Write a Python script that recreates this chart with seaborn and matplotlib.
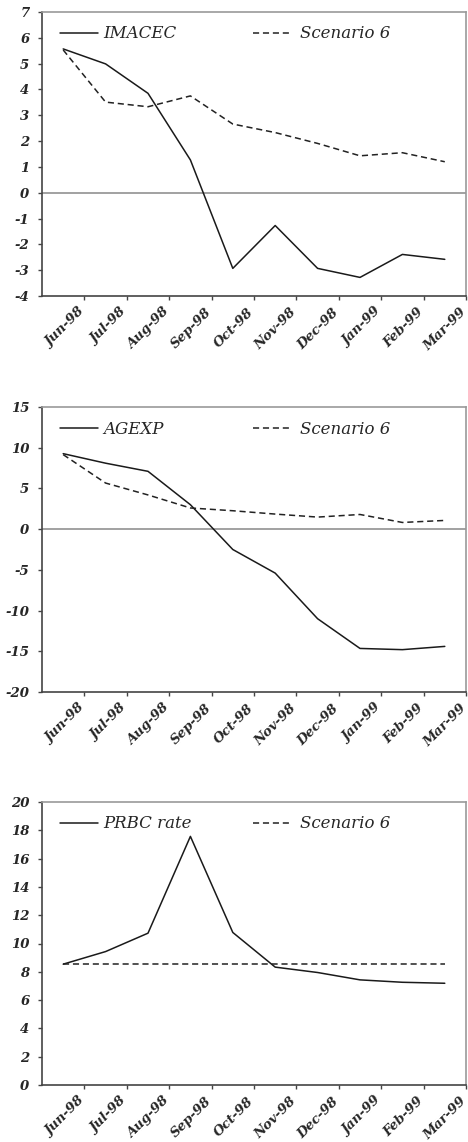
import matplotlib
matplotlib.use("Agg")
import matplotlib.pyplot as plt
import seaborn as sns
import numpy as np
from matplotlib.legend import Legend

sns.set_theme(style="white")
plt.rcParams['font.family'] = ['DejaVu Serif']

# --- data ---
months = ['Jun-98', 'Jul-98', 'Aug-98', 'Sep-98', 'Oct-98',
          'Nov-98', 'Dec-98', 'Jan-99', 'Feb-99', 'Mar-99']

imacec = [5.57, 4.99, 3.85, 1.27, -2.93, -1.27, -2.93, -3.28, -2.39, -2.58]
imacec_s6 = [5.53, 3.51, 3.33, 3.75, 2.66, 2.33, 1.91, 1.43, 1.55, 1.20]

agexp = [9.27, 8.1, 7.1, 3.0, -2.5, -5.4, -11.0, -14.65, -14.8, -14.4]
agexp_s6 = [9.15, 5.66, 4.2, 2.6, 2.26, 1.85, 1.48, 1.8, 0.82, 1.07]

prbc = [8.54, 9.43, 10.73, 17.57, 10.78, 8.33, 7.95, 7.43, 7.26, 7.19]
prbc_s6 = [8.55, 8.55, 8.55, 8.55, 8.55, 8.55, 8.55, 8.55, 8.55, 8.55]

panels = [
    ('IMACEC', imacec, imacec_s6, (-4, 7), np.arange(-4, 8, 1)),
    ('AGEXP', agexp, agexp_s6, (-20, 15), np.arange(-20, 16, 5)),
    ('PRBC rate', prbc, prbc_s6, (0, 20), np.arange(0, 21, 2)),
]

W, H = 468, 1142
fig = plt.figure(figsize=(W / 100, H / 100), dpi=100)

# axes boxes in pixels: (left, top, right, bottom)
boxes = [(42, 12, 466, 296), (42, 407, 466, 692), (42, 802, 466, 1085)]

x = np.arange(len(months))

for (name, main, scen, ylim, yticks), (l, t, r, b) in zip(panels, boxes):
    ax = fig.add_axes([l / W, 1 - b / H, (r - l) / W, (b - t) / H])
    sns.lineplot(x=x, y=main, ax=ax, color='#1a1a1a', lw=1.1, label=name)
    sns.lineplot(x=x, y=scen, ax=ax, color='#222222', lw=1.1,
                 dashes=False, label='Scenario 6')
    ax.lines[1].set_dashes((4, 2.5))
    if ylim[0] < 0:
        ax.axhline(0, color='#888888', lw=1.1, zorder=1)

    ax.set_xlim(-0.5, len(months) - 0.5)
    ax.set_ylim(*ylim)
    ax.set_yticks(yticks)
    ax.set_yticklabels([str(v) for v in yticks], fontsize=9.5,
                       fontstyle='italic', fontweight='bold')
    # tick marks on category boundaries, labels ending just left of them
    ax.set_xticks(x + 0.5, minor=True)
    ax.set_xticks(x + 0.34)
    ax.set_xticklabels(months, rotation=45, ha='right', va='top',
                       rotation_mode='anchor', fontsize=9.5,
                       fontstyle='italic', fontweight='bold')
    ax.tick_params(axis='both', direction='out', length=3, width=1,
                   color='#444444', pad=6, bottom=True, left=True)
    ax.tick_params(axis='x', which='major', length=0, pad=7)
    ax.tick_params(axis='x', which='minor', direction='out', length=3,
                   width=1, color='#444444', bottom=True)
    for side in ['left', 'bottom']:
        ax.spines[side].set_color('#444444')
        ax.spines[side].set_linewidth(1.2)
    for side in ['top', 'right']:
        ax.spines[side].set_color('#999999')
        ax.spines[side].set_linewidth(1.2)
    ax.set_xlabel('')
    ax.set_ylabel('')

    # legends: two separate entries placed like the original
    ax.get_legend().remove()
    hs = ax.get_lines()[:2]
    ph = (b - t)
    pw = (r - l)
    yl = 1 - 22 / ph
    leg1 = Legend(ax, [hs[0]], [name], loc='center left',
                  bbox_to_anchor=((53 - l - 8) / pw, yl), frameon=False,
                  handlelength=2.3, handletextpad=0.3,
                  prop={'style': 'italic', 'size': 12})
    leg2 = Legend(ax, [hs[1]], ['Scenario 6'], loc='center left',
                  bbox_to_anchor=((246 - l - 8) / pw, yl), frameon=False,
                  handlelength=2.3, handletextpad=0.55,
                  prop={'style': 'italic', 'size': 12})
    ax.add_artist(leg1)
    ax.add_artist(leg2)

fig.savefig('out.png', dpi=100)
